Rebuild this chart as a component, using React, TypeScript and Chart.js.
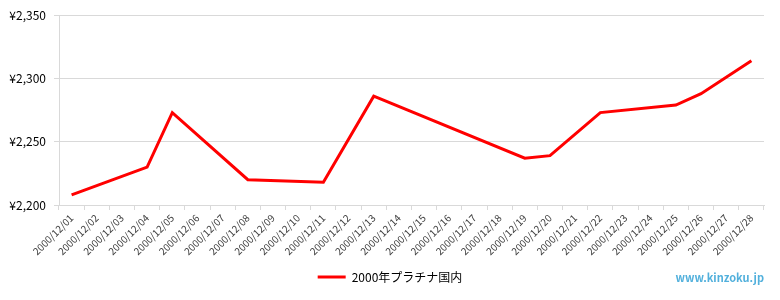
import React, { useEffect, useRef } from "react";
import { Chart, registerables } from "chart.js";

Chart.register(...registerables);

const categories: string[] = [
  "2000/12/01", "2000/12/02", "2000/12/03", "2000/12/04", "2000/12/05", "2000/12/06", "2000/12/07",
  "2000/12/08", "2000/12/09", "2000/12/10", "2000/12/11", "2000/12/12", "2000/12/13", "2000/12/14",
  "2000/12/15", "2000/12/16", "2000/12/17", "2000/12/18", "2000/12/19", "2000/12/20", "2000/12/21",
  "2000/12/22", "2000/12/23", "2000/12/24", "2000/12/25", "2000/12/26", "2000/12/27", "2000/12/28",
];

const platinumPrices: (number | null)[] = [
  2208, null, null, 2230, 2273, null, null,
  2220, null, null, 2218, null, 2286, null,
  null, null, null, null, 2237, 2239, null,
  2273, null, null, 2279, 2288, null, 2314,
];

const seriesName = "2000年プラチナ国内";
const yMin = 2200;
const yMax = 2350;
const yStep = 50;
const watermark = "www.kinzoku.jp";

const FONT = "'Noto Sans CJK JP', 'Noto Sans', sans-serif";

export default function App() {
  const ref = useRef<HTMLCanvasElement | null>(null);

  useEffect(() => {
    document.body.style.margin = "0";
    const canvas = ref.current;
    if (!canvas) return;

    const watermarkPlugin = {
      id: "watermark",
      afterDraw(chart: any) {
        const { ctx, chartArea } = chart;
        ctx.save();
        ctx.font = `bold 11px ${FONT}`;
        ctx.fillStyle = "#52b0dc";
        ctx.textAlign = "right";
        ctx.textBaseline = "middle";
        ctx.fillText(watermark, chartArea.right, 278);
        ctx.restore();
      },
    };

    const chart = new Chart(canvas, {
      type: "line",
      data: {
        labels: categories,
        datasets: [
          {
            label: seriesName,
            data: platinumPrices,
            borderColor: "#ff0000",
            backgroundColor: "#ff0000",
            borderWidth: 3,
            pointRadius: 0,
            pointHoverRadius: 0,
            spanGaps: true,
            tension: 0,
          },
        ],
      },
      options: {
        responsive: false,
        animation: false,
        layout: { padding: { top: 7.8, right: 0, bottom: 7, left: 0 } },
        plugins: {
          legend: {
            position: "bottom",
            labels: {
              boxWidth: 28,
              boxHeight: 3,
              padding: 10,
              color: "#000000",
              font: { family: FONT, size: 12 },
              generateLabels(chart: any) {
                const items = Chart.defaults.plugins.legend.labels.generateLabels(chart);
                return items.map((it: any) => ({ ...it, lineWidth: 0 }));
              },
            },
          },
          tooltip: { enabled: false },
        },
        scales: {
          x: {
            offset: true,
            grid: {
              offset: true,
              drawOnChartArea: true,
              color: (c: any) => (c.index === categories.length ? "#d9d9d9" : "rgba(0,0,0,0)"),
              tickColor: "#d9d9d9",
              tickLength: 5,
            },
            border: { color: "#d9d9d9" },
            ticks: {
              autoSkip: false,
              minRotation: 45,
              maxRotation: 45,
              color: "#404040",
              padding: 2,
              font: { family: FONT, size: 10 },
            },
            afterFit(scale: any) {
              scale.height = 56;
            },
          },
          y: {
            min: yMin,
            max: yMax,
            grid: { color: "#d9d9d9", drawTicks: true, tickLength: 5, tickColor: "#d9d9d9" },
            border: { color: "#d9d9d9" },
            ticks: {
              stepSize: yStep,
              padding: 8,
              color: "#000000",
              font: { family: FONT, size: 12 },
              callback: (v: any) => "¥" + Number(v).toLocaleString("en-US"),
            },
            afterFit(scale: any) {
              scale.width = 59;
            },
          },
          spacer: {
            type: "linear",
            position: "right",
            display: true,
            grid: { display: false, drawTicks: false },
            border: { display: false },
            ticks: { display: false },
            afterFit(scale: any) {
              scale.width = 16;
            },
          },
        },
      },
      plugins: [watermarkPlugin],
    });

    return () => chart.destroy();
  }, []);

  return <canvas ref={ref} width={780} height={300} style={{ display: "block" }} />;
}
